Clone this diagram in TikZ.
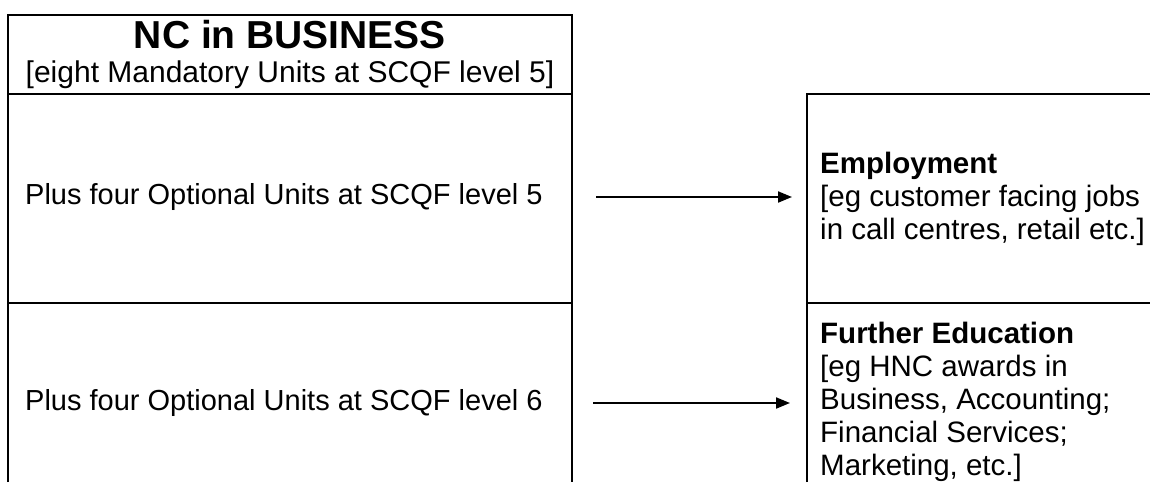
\documentclass[tikz,border=0pt]{standalone}
\usepackage{fontspec}
\setmainfont{Liberation Sans}
\usetikzlibrary{arrows.meta}
\begin{document}
\begin{tikzpicture}[x=1pt,y=-1pt,
  frame/.style={line width=2pt},
  conn/.style={line width=2pt,-{Triangle[length=14pt,width=11pt]}},
  body/.style={font=\fontsize{29}{33}\selectfont,inner sep=0pt,align=left},
  rbody/.style={font=\fontsize{29.5}{33}\selectfont,inner sep=0pt,align=left},
  title/.style={font=\fontsize{39}{42}\selectfont\bfseries,inner sep=0pt}]
\useasboundingbox (0,0) rectangle (1150,482);
% left column
\draw[frame] (8,482) -- (8,15) -- (572,15) -- (572,482);
\draw[frame] (8,94) -- (572,94);
\draw[frame] (8,303) -- (572,303);
% right column
\draw[frame] (807,482) -- (807,94) -- (1150,94);
\draw[frame] (807,303) -- (1150,303);
% texts
\node[title] (nc) at (290,35) {NC in BUSINESS};
\node[body,font=\fontsize{30}{33}\selectfont] (mand) at (290,75) {[eight Mandatory Units at SCQF level 5]};
\node[body,anchor=west] (opt5) at (25,197) {Plus four Optional Units at SCQF level 5};
\node[body,anchor=west] (opt6) at (25,403) {Plus four Optional Units at SCQF level 6};
\node[rbody,anchor=west] (emp) at (820,199) {\textbf{Employment}\\{[}eg customer facing jobs\\in call centres, retail etc.{]}};
\node[rbody,anchor=west] (fe) at (820,402) {\textbf{Further Education}\\{[}eg HNC awards in\\Business, Accounting;\\Financial Services;\\Marketing, etc.{]}};
% connectors
\coordinate (a1s) at (596,197);
\coordinate (a1e) at (792,197);
\coordinate (a2s) at (593,403);
\coordinate (a2e) at (790,403);
\draw[conn] (a1s) -- (a1e);
\draw[conn] (a2s) -- (a2e);
\end{tikzpicture}
\end{document}
